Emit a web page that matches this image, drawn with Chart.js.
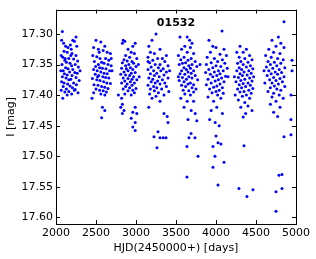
<!DOCTYPE html>
<html>
<head>
<meta charset="utf-8">
<script src="https://cdn.jsdelivr.net/npm/chart.js@4"></script>
<style>
  body { margin: 0; background: #fff; }
  #wrap { width: 316px; height: 259px; position: relative; }
</style>
</head>
<body>
<div id="wrap"><canvas id="lc"></canvas></div>
<script>
// [HJD-2450000, I mag] per observing season
const season1 = [[2080,17.296],[2070,17.31],[2095,17.315],[2180,17.318],[2210,17.31],[2230,17.312],[2120,17.32],[2150,17.322],[2190,17.325],[2260,17.32],[2100,17.328],[2140,17.33],[2200,17.332],[2250,17.335],[2065,17.335],[2085,17.338],[2160,17.34],[2220,17.341],[2110,17.343],[2270,17.344],[2130,17.346],[2175,17.348],[2240,17.35],[2075,17.35],[2195,17.352],[2280,17.354],[2120,17.355],[2150,17.357],[2210,17.358],[2090,17.36],[2060,17.36],[2170,17.362],[2235,17.363],[2265,17.364],[2105,17.365],[2140,17.367],[2200,17.368],[2080,17.37],[2250,17.371],[2125,17.372],[2185,17.374],[2160,17.375],[2290,17.376],[2070,17.378],[2100,17.38],[2220,17.38],[2145,17.382],[2255,17.383],[2175,17.385],[2090,17.386],[2205,17.388],[2130,17.39],[2240,17.391],[2065,17.392],[2160,17.394],[2110,17.395],[2275,17.396],[2195,17.398],[2140,17.40],[2085,17.405],[2230,17.392],[2300,17.36],[2115,17.34],[2185,17.335],[2250,17.305]];
const season2 = [[2500,17.31],[2560,17.313],[2610,17.32],[2470,17.322],[2530,17.325],[2590,17.327],[2640,17.33],[2680,17.332],[2460,17.335],[2510,17.337],[2550,17.34],[2620,17.34],[2660,17.343],[2480,17.345],[2570,17.346],[2600,17.348],[2530,17.35],[2650,17.35],[2690,17.352],[2495,17.353],[2545,17.355],[2580,17.356],[2625,17.357],[2470,17.358],[2670,17.36],[2515,17.36],[2560,17.362],[2600,17.364],[2640,17.365],[2490,17.366],[2535,17.368],[2585,17.37],[2620,17.371],[2660,17.372],[2455,17.373],[2510,17.375],[2550,17.376],[2595,17.378],[2635,17.38],[2680,17.381],[2475,17.383],[2525,17.384],[2570,17.386],[2610,17.387],[2650,17.389],[2500,17.39],[2545,17.392],[2590,17.393],[2630,17.395],[2470,17.396],[2560,17.398],[2610,17.40],[2450,17.405],[2580,17.42],[2610,17.425],[2570,17.437],[2700,17.36],[2690,17.34],[2540,17.33],[2520,17.37]];
const season3 = [[2840,17.31],[2860,17.312],[2830,17.315],[2990,17.315],[2960,17.32],[2900,17.325],[2940,17.33],[2980,17.332],[2870,17.335],[2920,17.338],[3010,17.34],[2850,17.342],[2890,17.344],[2950,17.345],[2830,17.347],[2970,17.348],[2910,17.35],[2870,17.352],[3000,17.353],[2930,17.355],[2820,17.356],[2880,17.357],[2960,17.358],[2900,17.36],[2850,17.362],[2990,17.363],[2940,17.364],[2810,17.366],[2870,17.367],[2920,17.368],[2970,17.37],[2840,17.372],[2900,17.373],[2950,17.374],[3010,17.375],[2860,17.377],[2930,17.378],[2980,17.38],[2820,17.38],[2890,17.382],[2950,17.384],[2870,17.386],[2920,17.388],[3000,17.389],[2840,17.39],[2960,17.392],[2900,17.393],[2980,17.396],[2860,17.398],[2940,17.40],[2780,17.40],[2820,17.405],[2830,17.415],[2810,17.42],[2850,17.425],[2830,17.43],[2990,17.42],[2960,17.428],[3010,17.43],[2940,17.438],[2990,17.445],[2960,17.452],[2990,17.458],[3040,17.37],[3030,17.35]];
const season4 = [[3250,17.30],[3200,17.31],[3160,17.32],[3300,17.325],[3180,17.33],[3230,17.332],[3380,17.335],[3150,17.338],[3270,17.34],[3330,17.34],[3210,17.343],[3360,17.345],[3170,17.347],[3240,17.35],[3300,17.35],[3400,17.352],[3190,17.354],[3280,17.355],[3340,17.357],[3150,17.358],[3220,17.36],[3310,17.36],[3380,17.362],[3260,17.364],[3180,17.365],[3350,17.367],[3230,17.368],[3290,17.37],[3160,17.372],[3400,17.372],[3210,17.374],[3330,17.375],[3270,17.377],[3190,17.378],[3360,17.38],[3240,17.38],[3300,17.382],[3150,17.384],[3220,17.386],[3380,17.386],[3260,17.388],[3180,17.39],[3320,17.39],[3230,17.393],[3410,17.394],[3280,17.396],[3170,17.398],[3350,17.40],[3250,17.402],[3200,17.405],[3300,17.41],[3160,17.42],[3350,17.43],[3390,17.435],[3400,17.445],[3275,17.46],[3225,17.468],[3300,17.47],[3340,17.47],[3375,17.47],[3262,17.486],[3150,17.345],[3420,17.36]];
const season5 = [[3550,17.305],[3640,17.305],[3670,17.31],[3700,17.315],[3610,17.32],[3680,17.322],[3570,17.325],[3640,17.33],[3720,17.332],[3530,17.335],[3600,17.338],[3690,17.34],[3560,17.342],[3650,17.343],[3740,17.345],[3620,17.347],[3580,17.348],[3700,17.35],[3540,17.35],[3660,17.352],[3760,17.353],[3600,17.355],[3680,17.356],[3630,17.358],[3720,17.36],[3570,17.36],[3650,17.362],[3690,17.364],[3550,17.365],[3610,17.366],[3740,17.368],[3660,17.37],[3580,17.371],[3700,17.372],[3630,17.374],[3770,17.375],[3540,17.376],[3600,17.378],[3680,17.38],[3650,17.382],[3720,17.383],[3570,17.384],[3620,17.386],[3700,17.388],[3750,17.39],[3590,17.392],[3660,17.393],[3720,17.395],[3610,17.398],[3680,17.40],[3560,17.405],[3640,17.41],[3720,17.41],[3600,17.42],[3690,17.425],[3740,17.43],[3650,17.44],[3760,17.442],[3688,17.463],[3662,17.47],[3737,17.47],[3637,17.484],[3775,17.50],[3637,17.534],[3530,17.37],[3800,17.35]];
const season6 = [[4075,17.295],[3912,17.31],[3960,17.32],[4000,17.322],[4100,17.325],[3930,17.33],[4050,17.333],[4130,17.335],[3890,17.338],[3980,17.34],[4080,17.342],[4020,17.345],[3940,17.347],[4110,17.348],[3880,17.35],[4000,17.352],[4060,17.353],[3960,17.355],[4140,17.356],[3910,17.358],[4030,17.36],[4090,17.36],[3980,17.362],[3870,17.363],[4050,17.365],[3930,17.366],[4010,17.368],[4120,17.369],[3960,17.37],[4070,17.372],[3900,17.374],[4030,17.375],[3990,17.377],[4100,17.378],[3940,17.38],[4050,17.382],[3880,17.383],[4010,17.385],[3970,17.387],[4080,17.388],[3920,17.39],[4040,17.392],[4000,17.394],[3950,17.396],[4090,17.397],[4020,17.40],[3900,17.403],[3970,17.41],[4060,17.405],[4010,17.42],[3940,17.425],[4080,17.43],[3920,17.44],[3990,17.445],[4040,17.45],[4000,17.467],[3962,17.484],[4025,17.478],[4062,17.48],[3987,17.50],[3962,17.518],[4100,17.51],[4025,17.547],[4150,17.37]];
const season7 = [[4300,17.32],[4380,17.325],[4260,17.33],[4340,17.33],[4420,17.335],[4290,17.338],[4360,17.34],[4450,17.342],[4310,17.345],[4400,17.346],[4270,17.348],[4340,17.35],[4430,17.352],[4380,17.354],[4290,17.355],[4460,17.357],[4320,17.358],[4410,17.36],[4260,17.36],[4350,17.362],[4440,17.364],[4300,17.365],[4390,17.367],[4330,17.368],[4470,17.37],[4280,17.371],[4420,17.372],[4360,17.374],[4310,17.376],[4450,17.377],[4250,17.378],[4400,17.38],[4340,17.381],[4290,17.383],[4430,17.384],[4370,17.386],[4320,17.388],[4460,17.389],[4270,17.39],[4410,17.392],[4350,17.394],[4300,17.395],[4440,17.397],[4380,17.40],[4330,17.402],[4420,17.405],[4280,17.408],[4360,17.412],[4400,17.418],[4310,17.42],[4450,17.425],[4370,17.43],[4340,17.436],[4350,17.483],[4287,17.553],[4387,17.566],[4462,17.555],[4240,17.40],[4230,17.37]];
const season8 = [[4850,17.28],[4780,17.305],[4700,17.31],[4810,17.315],[4750,17.32],[4850,17.322],[4660,17.325],[4720,17.33],[4800,17.332],[4620,17.335],[4690,17.338],[4770,17.34],[4840,17.342],[4650,17.345],[4730,17.346],[4810,17.348],[4680,17.35],[4760,17.352],[4630,17.354],[4860,17.355],[4710,17.356],[4790,17.358],[4660,17.36],[4740,17.362],[4820,17.363],[4690,17.365],[4770,17.366],[4640,17.368],[4850,17.37],[4720,17.371],[4800,17.373],[4670,17.375],[4750,17.376],[4830,17.378],[4700,17.38],[4610,17.38],[4780,17.382],[4730,17.385],[4860,17.386],[4680,17.388],[4760,17.39],[4810,17.392],[4650,17.394],[4720,17.397],[4790,17.40],[4700,17.403],[4840,17.405],[4750,17.41],[4680,17.415],[4800,17.42],[4720,17.428],[4770,17.435],[4750,17.558],[4750,17.59],[4787,17.531],[4825,17.53],[4825,17.553],[4850,17.468],[4600,17.36]];
const lateObs = [[4937,17.465],[4950,17.343],[4950,17.36],[4937,17.40],[4937,17.44]];

const xTicks = [2000, 2500, 3000, 3500, 4000, 4500, 5000];
const yTicks = [17.30, 17.35, 17.40, 17.45, 17.50, 17.55, 17.60];
const starId = '01532';

const allObs = [season1, season2, season3, season4, season5, season6, season7, season8, lateObs]
    .flat()
    .map(([x, y]) => ({ x: x, y: y }));

// matplotlib-style frame with inward ticks on all four sides + star id
const framePlugin = {
    id: 'frame',
    afterDraw(chart) {
        const ctx = chart.ctx;
        const a = chart.chartArea;
        const xs = chart.scales.x, ys = chart.scales.y;
        const len = 4;
        ctx.save();
        ctx.strokeStyle = '#000';
        ctx.lineWidth = 1;
        ctx.beginPath();
        xTicks.forEach(v => {
            const px = Math.round(xs.getPixelForValue(v)) + 0.5;
            ctx.moveTo(px, a.bottom); ctx.lineTo(px, a.bottom - len);
            ctx.moveTo(px, a.top); ctx.lineTo(px, a.top + len);
        });
        yTicks.forEach(v => {
            const py = Math.round(ys.getPixelForValue(v)) + 0.5;
            ctx.moveTo(a.left, py); ctx.lineTo(a.left + len, py);
            ctx.moveTo(a.right, py); ctx.lineTo(a.right - len, py);
        });
        ctx.stroke();
        ctx.strokeRect(Math.round(a.left) + 0.5, Math.round(a.top) + 0.5,
            Math.round(a.right - a.left), Math.round(a.bottom - a.top));
        ctx.fillStyle = '#000';
        ctx.font = 'bold 11px "DejaVu Sans"';
        ctx.textAlign = 'center';
        ctx.textBaseline = 'middle';
        ctx.fillText(starId, (a.left + a.right) / 2, a.top + 14);
        ctx.restore();
    }
};

const ctx = document.getElementById('lc').getContext('2d');
new Chart(ctx, {
    type: 'scatter',
    data: {
        datasets: [{
            label: starId,
            data: allObs,
            backgroundColor: '#0000ff',
            borderWidth: 0,
            pointRadius: 1.5,
            pointHoverRadius: 1.5
        }]
    },
    options: {
        responsive: true,
        maintainAspectRatio: false,
        animation: false,
        layout: { padding: { left: 0, right: 20, top: 5, bottom: 0 } },
        plugins: { legend: { display: false }, tooltip: { enabled: false } },
        scales: {
            x: {
                type: 'linear',
                min: 2000,
                max: 5000,
                afterBuildTicks: s => { s.ticks = xTicks.map(v => ({ value: v })); },
                afterFit: s => { s.height = 35; },
                grid: { drawOnChartArea: false, drawTicks: false },
                border: { display: false },
                ticks: {
                    color: '#000',
                    padding: 3,
                    maxRotation: 0,
                    font: { family: 'DejaVu Sans', size: 11 },
                    callback: v => String(v)
                },
                title: {
                    display: true,
                    text: 'HJD(2450000+) [days]',
                    color: '#000',
                    font: { family: 'DejaVu Sans', size: 11 },
                    padding: { top: 0, bottom: 4 }
                }
            },
            y: {
                type: 'linear',
                reverse: true,
                min: 17.26,
                max: 17.611,
                afterBuildTicks: s => { s.ticks = yTicks.map(v => ({ value: v })); },
                afterFit: s => { s.width = 56; },
                grid: { drawOnChartArea: false, drawTicks: false },
                border: { display: false },
                ticks: {
                    color: '#000',
                    padding: 3,
                    font: { family: 'DejaVu Sans', size: 11 },
                    callback: v => Number(v).toFixed(2)
                },
                title: {
                    display: true,
                    text: 'I [mag]',
                    color: '#000',
                    font: { family: 'DejaVu Sans', size: 11 },
                    padding: { top: 5, bottom: 0 }
                }
            }
        }
    },
    plugins: [framePlugin]
});
</script>
</body>
</html>
